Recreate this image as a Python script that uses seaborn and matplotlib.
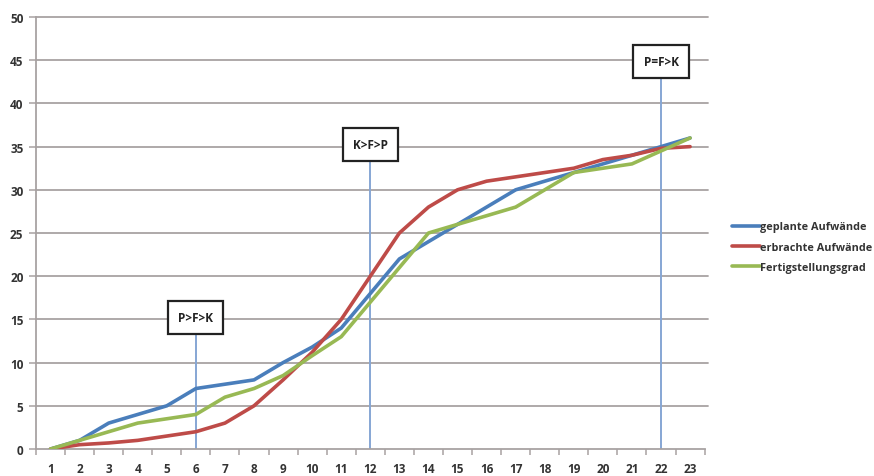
import numpy as np
import pandas as pd
import matplotlib
matplotlib.use("Agg")
import matplotlib.pyplot as plt
from matplotlib.ticker import FixedLocator
import seaborn as sns

# ── Data ─────────────────────────────────────────────────────────────────────
kw = list(range(1, 24))
geplant = [0, 1, 3, 4, 5, 7, 7.5, 8, 10, 11.8, 14, 18, 22, 24, 26, 28, 30, 31, 32, 33, 34, 35, 36]
erbracht = [0, 0.5, 0.7, 1, 1.5, 2, 3, 5, 8, 11.2, 15, 20, 25, 28, 30, 31, 31.5, 32, 32.5, 33.5, 34, 34.8, 35]
fertig = [0, 1, 2, 3, 3.5, 4, 6, 7, 8.5, 10.8, 13, 17, 21, 25, 26, 27, 28, 30, 32, 32.5, 33, 34.5, 36]

series_names = ["geplante Aufwände", "erbrachte Aufwände", "Fertigstellungsgrad"]
series_colors = ["#4a7ebb", "#be4b48", "#98b954"]

marker_x = [6, 12, 22]
marker_y = [15.2, 35.2, 44.8]
marker_text = ["P>F>K", "K>F>P", "P=F>K"]

df = pd.DataFrame({
    "kw": kw * 3,
    "wert": geplant + erbracht + fertig,
    "reihe": [series_names[0]] * 23 + [series_names[1]] * 23 + [series_names[2]] * 23,
})

# ── Plot ─────────────────────────────────────────────────────────────────────
sns.set_style("white")
plt.rcParams["font.family"] = ["Open Sans", "DejaVu Sans"]

fig = plt.figure(figsize=(8.74, 4.77), dpi=100)
ax = fig.add_axes([0.0412, 0.0566, 0.765, 0.9056])

# horizontal grid
for yv in range(5, 55, 5):
    ax.plot([0.5, 23.6], [yv, yv], color="#a8a2a2", lw=1.3, zorder=0, clip_on=False)

# marker lines + boxes
for xv, yv, t in zip(marker_x, marker_y, marker_text):
    ax.plot([xv, xv], [0, yv], color="#86a6d4", lw=1.4, zorder=1)
    ax.text(xv, yv, t, ha="center", va="center", fontsize=8.5, fontweight="bold",
            color="#222222", zorder=5,
            bbox=dict(boxstyle="square,pad=0.85", fc="white", ec="#222222", lw=1.6))

sns.lineplot(data=df, x="kw", y="wert", hue="reihe", palette=series_colors,
             hue_order=series_names, lw=2.6, ax=ax, zorder=3, legend=False)

ax.set_xlim(0.5, 23.5)
ax.set_ylim(0, 50)
ax.set_xlabel("")
ax.set_ylabel("")

ax.set_yticks(range(0, 55, 5))
ax.set_xticks(kw)
ax.xaxis.set_minor_locator(FixedLocator(np.arange(0.5, 24, 1)))
ax.tick_params(axis="x", which="major", length=0, pad=9, labelsize=8.5, labelcolor="#333333")
ax.tick_params(axis="x", which="minor", length=4, width=1.1, color="#a8a2a2", direction="out", bottom=True)
ax.tick_params(axis="y", length=5, width=1.1, color="#a8a2a2", pad=4, labelsize=8.5,
               labelcolor="#333333", left=True)
for lab in ax.get_xticklabels() + ax.get_yticklabels():
    lab.set_fontweight("bold")

for s in ["top", "right"]:
    ax.spines[s].set_visible(False)
for s in ["left", "bottom"]:
    ax.spines[s].set_color("#a8a2a2")
    ax.spines[s].set_linewidth(1.3)

# legend
handles = [plt.Line2D([], [], color=c, lw=2.6) for c in series_colors]
leg = fig.legend(handles, series_names, loc="center left", bbox_to_anchor=(0.826, 0.48),
                 frameon=False, fontsize=7.8, handlelength=2.6, handletextpad=0.0,
                 labelspacing=0.85)
for t in leg.get_texts():
    t.set_fontweight("bold")
    t.set_color("#333333")

fig.savefig("out.png", dpi=100, facecolor="white")
